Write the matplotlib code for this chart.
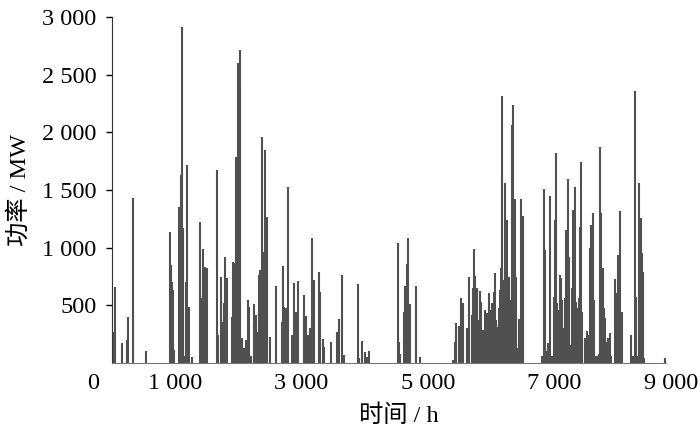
import matplotlib
matplotlib.use("Agg")
import matplotlib.pyplot as plt

plt.rcParams['font.family'] = ['Liberation Serif', 'Noto Sans CJK SC']

# hourly output spikes (hour, MW)
hours = [
    20, 42, 164, 232, 258, 327, 532, 917, 933, 953, 969, 985, 1054, 1070, 1086, 1101,
    1117, 1133, 1170, 1191, 1207, 1223, 1270, 1397, 1412, 1428, 1444, 1465, 1497, 1655,
    1670, 1723, 1750, 1770, 1792, 1813, 1892, 1913, 1934, 1961, 1977, 1992, 2019, 2029,
    2050, 2082, 2124, 2146, 2166, 2198, 2240, 2251, 2277, 2298, 2324, 2345, 2366, 2393,
    2419, 2446, 2493, 2589, 2683, 2709, 2725, 2746, 2778, 2851, 2878, 2915, 2946, 3036,
    3073, 3094, 3131, 3168, 3189, 3273, 3289, 3331, 3347, 3458, 3553, 3585, 3632, 3658,
    3669, 3890, 3911, 3948, 3996, 4027, 4064, 4522, 4538, 4564, 4617, 4643, 4665, 4685,
    4712, 4807, 4875, 5387, 5419, 5450, 5492, 5529, 5555, 5613, 5645, 5703, 5713, 5729,
    5750, 5772, 5787, 5824, 5845, 5872, 5908, 5930, 5961, 5977, 6009, 6025, 6046, 6056,
    6083, 6104, 6125, 6146, 6162, 6176, 6199, 6218, 6241, 6255, 6278, 6299, 6325, 6345,
    6372, 6393, 6420, 6441, 6467, 6488, 6509, 6805, 6831, 6853, 6879, 6905, 6926, 6963,
    6990, 7010, 7026, 7042, 7063, 7084, 7105, 7127, 7153, 7168, 7190, 7210, 7226, 7247,
    7274, 7284, 7300, 7321, 7342, 7363, 7384, 7400, 7420, 7442, 7490, 7516, 7543, 7569,
    7585, 7606, 7627, 7648, 7674, 7701, 7716, 7737, 7764, 7785, 7806, 7827, 7848, 7875,
    7901, 7953, 7980, 8012, 8037, 8064, 8217, 8243, 8279, 8296, 8317, 8343, 8365, 8380,
    8406, 8422, 8755,
]
power = [
    272, 662, 170, 200, 402, 1433, 104, 1139, 850, 705, 633, 113, 1355, 1023, 1630, 2916,
    1168, 60, 705, 1717, 315, 488, 55, 1225, 560, 315, 988, 835, 820, 1673,
    243, 748, 358, 517, 922, 734, 402, 878, 864, 1789, 1052, 2598, 2714, 2367,
    214, 127, 200, 546, 488, 60, 330, 509, 416, 272, 763, 806, 1957, 965,
    1846, 1269, 228, 670, 358, 844, 488, 480, 1529, 243, 691, 445, 714, 590,
    408, 243, 300, 1087, 720, 786, 613, 205, 142, 179, 266, 381, 763, 40,
    69, 682, 40, 194, 98, 50, 107, 1043, 185, 80, 439, 668, 855, 1081,
    512, 670, 50, 25, 185, 347, 318, 566, 520, 306, 743, 416, 647, 988,
    754, 647, 373, 621, 532, 286, 460, 436, 604, 460, 517, 430, 618, 783,
    373, 315, 474, 633, 821, 2315, 720, 1563, 899, 1240, 749, 546, 2063, 2237,
    1419, 749, 127, 379, 1419, 864, 1274, 60, 1506, 980, 100, 170, 1448, 60,
    575, 1240, 1818, 517, 460, 763, 734, 546, 300, 560, 1153, 1592, 922, 156,
    60, 653, 1324, 1523, 532, 474, 560, 1182, 1746, 445, 220, 277, 243, 994,
    1196, 1298, 546, 60, 60, 80, 1870, 1298, 821, 474, 393, 185, 214, 257,
    60, 725, 610, 936, 1318, 445, 243, 60, 2361, 575, 60, 1563, 1254, 951,
    792, 40, 46,
]

y_ticks = [500, 1000, 1500, 2000, 2500, 3000]
y_labels = ["500", "1 000", "1 500", "2 000", "2 500", "3 000"]
x_ticks = [1000, 3000, 5000, 7000]
x_labels = ["1 000", "3 000", "5 000", "7 000"]

fig = plt.figure(figsize=(7, 4.36), dpi=100)
ax = fig.add_axes([0.16, 0.1674, 0.791, 0.7936])

ax.vlines(hours, 0, power, colors='#505050', linewidth=1.5)

ax.set_xlim(0, 8760)
ax.set_ylim(0, 3000)
ax.spines['top'].set_visible(False)
ax.spines['right'].set_visible(False)
ax.spines['left'].set_color('#333333')
ax.spines['bottom'].set_color('#777777')

ax.set_yticks(y_ticks)
ax.set_yticklabels(y_labels)
ax.set_xticks(x_ticks)
ax.set_xticklabels(x_labels)
ax.tick_params(axis='y', length=4, width=1, direction='out', pad=7, labelsize=17.5)
ax.tick_params(axis='x', length=0, pad=7, labelsize=17.5)

# origin and last x label sit outside the plotting range
ax.text(-0.034, -0.058, "0", transform=ax.transAxes, ha='center', va='center', fontsize=17.5)
ax.text(1.058, -0.058, "9 000", transform=ax.transAxes, ha='right', va='center', fontsize=17.5)

ax.set_xlabel("时间 / h", fontsize=17.5)
ax.set_ylabel("功率 / MW", fontsize=17.5)
ax.xaxis.set_label_coords(0.518, -0.12)
ax.yaxis.set_label_coords(-0.146, 0.5)

fig.savefig("out.png", dpi=100)
